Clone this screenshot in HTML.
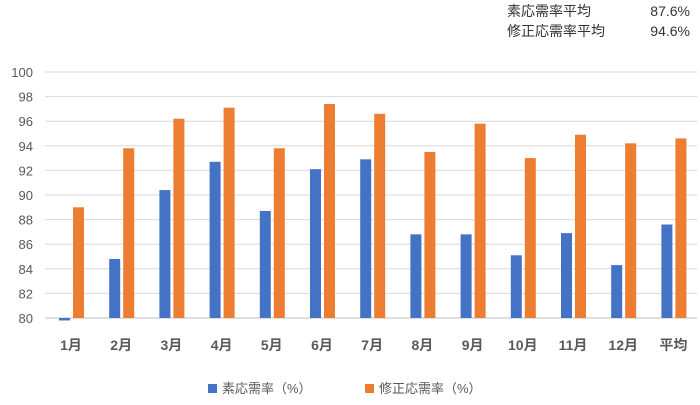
<!DOCTYPE html>
<html><head><meta charset="utf-8"><style>
body{margin:0;background:#fff;font-family:"Liberation Sans","Noto Sans CJK JP",sans-serif}
svg text{font-family:"Liberation Sans","Noto Sans CJK JP",sans-serif}
</style></head><body>
<svg width="700" height="400">
<g id="grid"></g><g id="bars"></g><g id="labels"></g>
<text x="507" y="16" font-size="14" fill="#333">素応需率平均</text>
<text x="690" y="16" font-size="14" fill="#333" text-anchor="end">87.6%</text>
<text x="507" y="36" font-size="14" fill="#333">修正応需率平均</text>
<text x="690" y="36" font-size="14" fill="#333" text-anchor="end">94.6%</text>
<rect x="208" y="384" width="9" height="9" fill="#4472C4"/>
<text x="222" y="393" font-size="13" fill="#595959">素応需率（%）</text>
<rect x="365" y="384" width="9" height="9" fill="#ED7D31"/>
<text x="379" y="393" font-size="13" fill="#595959">修正応需率（%）</text>
</svg>
<script>
const categories=["1月","2月","3月","4月","5月","6月","7月","8月","9月","10月","11月","12月","平均"];
const rawRate=[79.8,84.8,90.4,92.7,88.7,92.1,92.9,86.8,86.8,85.1,86.9,84.3,87.6];
const correctedRate=[89.0,93.8,96.2,97.1,93.8,97.4,96.6,93.5,95.8,93.0,94.9,94.2,94.6];
const yTicks=[80,82,84,86,88,90,92,94,96,98,100];
const NS="http://www.w3.org/2000/svg";
const y=v=>318-(v-80)*(246/20);
const x=i=>72+i*50.2;
function mk(p,t,a){const e=document.createElementNS(NS,t);for(const k in a)e.setAttribute(k,a[k]);document.getElementById(p).appendChild(e);return e;}
yTicks.forEach(t=>{
 const l=mk('grid','line',{x1:45,x2:697,y1:y(t),y2:y(t),stroke:t===80?'#bfbfbf':'#d9d9d9','stroke-width':1});
 
 
 const tx=mk('labels','text',{x:33,y:y(t)+5,'text-anchor':'end','font-size':13,fill:'#595959'});
 tx.textContent=t;
 
 
});
categories.forEach((c,i)=>{
 const v1=rawRate[i],v2=correctedRate[i];
 const b1=mk('bars','rect',{x:x(i)-13,width:11,y:Math.min(y(v1),y(80)),height:Math.abs(y(80)-y(v1)),fill:'#4472C4'});
 
 
 const b2=mk('bars','rect',{x:x(i)+1,width:11,y:y(v2),height:y(80)-y(v2),fill:'#ED7D31'});
 
 
 const t=mk('labels','text',{x:x(i)-1,y:350,'text-anchor':'middle','font-size':14,'font-weight':'bold',fill:'#595959'});
 t.textContent=c;
 
 
});
</script>
</body></html>
